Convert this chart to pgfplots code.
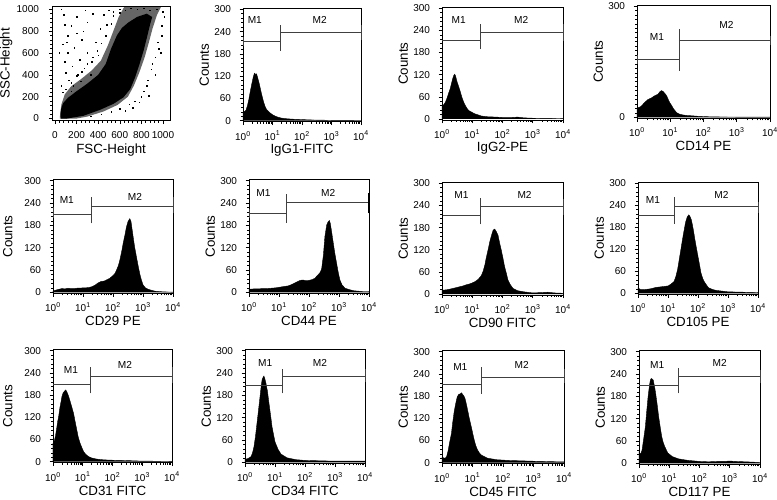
\documentclass[border=0pt]{standalone}
\usepackage{fontspec}
\setmainfont{Liberation Sans}
\usepackage{pgfplots}
\pgfplotsset{compat=1.18}
\pgfplotsset{
  panel/.style={
    scale only axis, anchor=south west,
    axis line style={line width=0.5pt, black},
    tick align=outside, tick pos=left,
    major tick length=2.5pt, minor tick length=1.4pt,
    tick style={black, line width=0.4pt},
    tick label style={font=\fontsize{7.5}{8.5}\selectfont},
    label style={font=\fontsize{7.6}{9}\selectfont},
    /pgf/number format/assume math mode=true,
    /pgf/number format/1000 sep={},
    xticklabel style={yshift=-1pt},
    yticklabel style={xshift=-3pt},
    every axis x label/.style={at={([yshift=-21pt]axis description cs:0.5,0)}, anchor=center},
    every axis y label/.style={at={([xshift=-29pt]axis description cs:0,0.5)}, anchor=center, rotate=90},
    clip=false,
  },
  hist/.style={panel, xmin=0, xmax=4, ymin=-3, ymax=303,
    xtick={0,1,2,3,4},
    xticklabels={10\textsuperscript{0},10\textsuperscript{1},10\textsuperscript{2},10\textsuperscript{3},10\textsuperscript{4}},
    minor xtick={0.301,0.477,0.602,0.699,0.778,0.845,0.903,0.954,1.301,1.477,1.602,1.699,1.778,1.845,1.903,1.954,2.301,2.477,2.602,2.699,2.778,2.845,2.903,2.954,3.301,3.477,3.602,3.699,3.778,3.845,3.903,3.954},
    ytick={0,60,120,180,240,300}, minor y tick num=4, ylabel={Counts}},
  firstcol/.style={every axis y label/.style={at={([xshift=-34pt]axis description cs:0,0.5)}, anchor=center, rotate=90}},
  hfill/.style={fill=black, draw=black, line width=0.3pt},
  mk/.style={black!75, line width=0.5pt},
  spk/.style={black, line width=0.6pt},
}
\newcommand{\ml}[1]{\fontsize{7.6}{9}\selectfont #1}
\begin{document}
\begin{tikzpicture}
\useasboundingbox (0,0) rectangle (582.75pt,374.25pt);

% ---------- Panel 1: scatter ----------
\begin{axis}[panel, at={(39.2pt,283.7pt)}, width=88.3pt, height=86pt,
  xmin=-25, xmax=1065, ymin=-20, ymax=1030,
  xtick={0,200,400,600,800,1000}, ytick={0,200,400,600,800,1000}, minor tick num=4,
  xticklabel style={yshift=-1pt, inner xsep=0pt},
  yticklabel style={xshift=-1pt},
  xlabel={FSC-Height}, ylabel={SSC-Height},
  every axis y label/.style={at={([xshift=-34.5pt]axis description cs:0,0.5)}, anchor=center, rotate=90},
  every axis x label/.style={at={([yshift=-22pt]axis description cs:0.5,0)}, anchor=center}]
\addplot[fill=black!60, draw=none] coordinates {(45,0) (200,0) (300,18) (450,65) (580,125) (675,200) (730,300) (780,420) (830,560) (870,700) (905,830) (945,950) (980,1020) (640,1020) (590,930) (540,800) (490,670) (425,530) (340,440) (240,360) (150,295) (90,220) (60,130) (48,50)};
\addplot[fill=black, draw=none] coordinates {(55,0) (110,0) (263,25) (418,80) (542,135) (635,195) (697,270) (743,380) (783,500) (820,620) (851,740) (880,860) (900,930) (850,960) (760,930) (680,880) (620,830) (573,760) (520,640) (470,500) (400,400) (300,320) (200,250) (120,190) (75,140) (58,90) (52,30)};
\addplot[only marks, mark=square*, mark size=0.2pt, black] coordinates {(80,950) (150,850) (200,780) (250,720) (180,650) (120,600) (300,880) (350,960) (420,820) (230,540) (160,480) (100,420) (300,600) (380,700) (270,460) (210,400) (130,350) (60,300) (90,520) (340,520) (450,950) (500,990) (280,990) (200,930) (120,760) (70,680) (400,580) (480,860) (150,250) (330,330) (260,800) (90,860) (540,980) (600,1000) (950,700) (980,600) (900,500) (860,350) (820,250) (780,150) (720,100) (650,70) (870,210) (930,400) (990,850) (1000,980) (60,1000) (40,600) (110,700) (330,400) (240,340) (170,300)
 (520,870) (470,760) (430,690) (390,620) (350,560) (300,500) (250,430) (200,390) (150,330) (100,270) (70,240) (540,940) (600,970) (650,990) (700,1010) (760,1000) (820,1010) (880,990) (940,1000) (1010,930) (990,760) (960,640) (930,560) (890,450) (850,300) (800,200) (740,160) (690,130) (600,90) (520,60) (430,40) (330,20)};
\end{axis}

% ---------- Panel 2: IgG1-FITC ----------
\begin{axis}[hist, at={(182.25pt,282.9pt)}, width=88.5pt, height=85.2pt, xlabel={IgG1-FITC}]
\addplot[hfill] coordinates {(0,0)(0,22)(0.05,25)(0.1,28)(0.15,40)(0.2,58)(0.25,80)(0.3,100)(0.35,118)(0.38,126)(0.4,128)(0.43,123)(0.46,126)(0.5,115)(0.55,100)(0.6,82)(0.65,65)(0.7,50)(0.75,38)(0.8,30)(0.9,22)(1.0,16)(1.1,12)(1.2,9)(1.3,7)(1.5,5)(1.7,4)(2.0,3)(2.3,2)(2.6,1.5)(3.0,1)(4,0.5)(4,0)};
\addplot[spk] coordinates {(0.01,0)(0.01,190)};
\addplot[mk] coordinates {(0,213)(1.27,213)};
\addplot[mk] coordinates {(1.27,189)(1.27,258)};
\addplot[mk] coordinates {(1.27,237)(4,237)};
\addplot[mk] coordinates {(4,217)(4,258)};
\addplot[mk] coordinates {(0,200)(0,226)};
\node at (axis cs:0.4,271) {\ml{M1}};
\node at (axis cs:2.6,271) {\ml{M2}};
\end{axis}

% ---------- Panel 3: IgG2-PE ----------
\begin{axis}[hist, at={(331.5pt,284.2pt)}, width=90.75pt, height=84.7pt, xlabel={IgG2-PE}]
\addplot[hfill] coordinates {(0,0)(0,35)(0.05,38)(0.11,45)(0.16,55)(0.22,70)(0.27,82)(0.31,95)(0.35,108)(0.39,118)(0.42,121)(0.45,116)(0.5,100)(0.55,88)(0.6,75)(0.66,58)(0.72,45)(0.78,35)(0.83,28)(0.9,22)(0.99,18)(1.08,14)(1.16,12)(1.3,8)(1.5,6)(1.8,5)(2.0,4)(2.3,4)(2.5,5)(2.7,3)(3.0,2)(3.5,1.5)(4,1)(4,0)};
\addplot[spk] coordinates {(0.01,0)(0.01,230)};
\addplot[mk] coordinates {(0,212)(1.27,212)};
\addplot[mk] coordinates {(1.27,189)(1.27,257)};
\addplot[mk] coordinates {(1.27,235)(4,235)};
\addplot[mk] coordinates {(4,212)(4,258)};
\node at (axis cs:0.55,268) {\ml{M1}};
\node at (axis cs:2.62,268) {\ml{M2}};
\end{axis}

% ---------- Panel 4: CD14 PE ----------
\begin{axis}[hist, at={(477.75pt,285.45pt)}, width=99.75pt, height=85.1pt, xlabel={CD14 PE},
  ytick={0,300}, minor y tick num=24]
\addplot[hfill] coordinates {(0,0)(0,25)(0.07,27)(0.13,30)(0.18,35)(0.23,40)(0.28,44)(0.33,48)(0.38,50)(0.43,52)(0.48,55)(0.53,58)(0.58,60)(0.63,62)(0.68,68)(0.73,72)(0.78,70)(0.82,66)(0.86,62)(0.9,56)(0.93,50)(0.98,40)(1.04,32)(1.09,24)(1.14,18)(1.2,12)(1.29,8)(1.4,6)(1.49,5)(1.65,4)(1.79,3)(2.0,2)(2.29,1)(3,0.6)(4,0.5)(4,0)};
\addplot[mk] coordinates {(0,156)(1.26,156)};
\addplot[mk] coordinates {(1.26,126)(1.26,237)};
\addplot[mk] coordinates {(1.26,208)(4,208)};
\addplot[mk] coordinates {(4,195)(4,220)};
\addplot[mk] coordinates {(0,145)(0,168)};
\node at (axis cs:0.6,217) {\ml{M1}};
\node at (axis cs:2.69,249) {\ml{M2}};
\end{axis}

% ---------- Panel 5: CD29 PE ----------
\begin{axis}[hist, firstcol, at={(39.75pt,154.2pt)}, width=90pt, height=85.35pt, xlabel={CD29 PE}]
\addplot[hfill] coordinates {(0,0)(0,3)(0.1,6)(0.2,8)(0.3,10)(0.4,9)(0.5,11)(0.6,10)(0.7,10)(0.8,11)(0.9,11)(1.0,12)(1.1,12)(1.2,13)(1.3,15)(1.4,19)(1.5,25)(1.6,29)(1.7,30)(1.8,34)(1.9,38)(2.0,45)(2.06,50)(2.12,60)(2.18,72)(2.23,87)(2.29,110)(2.34,132)(2.4,155)(2.45,176)(2.5,190)(2.56,198)(2.6,190)(2.67,150)(2.72,122)(2.78,96)(2.84,70)(2.9,47)(2.95,32)(3.0,20)(3.08,12)(3.17,8)(3.3,5)(3.4,3)(3.7,1)(4,0.5)(4,0)};
\addplot[mk] coordinates {(0,210)(1.29,210)};
\addplot[mk] coordinates {(1.29,185)(1.29,255)};
\addplot[mk] coordinates {(1.29,232)(4,232)};
\addplot[mk] coordinates {(4,212)(4,255)};
\addplot[mk] coordinates {(0,200)(0,230)};
\node at (axis cs:0.46,248) {\ml{M1}};
\node at (axis cs:2.73,255) {\ml{M2}};
\end{axis}

% ---------- Panel 6: CD44 PE ----------
\begin{axis}[hist, at={(186.75pt,154.2pt)}, width=90pt, height=85.35pt, xlabel={CD44 PE}]
\addplot[hfill] coordinates {(0,0)(0,8)(0.15,9)(0.3,9)(0.45,10)(0.6,10)(0.75,11)(0.9,12)(1.05,14)(1.2,16)(1.3,17)(1.4,20)(1.5,24)(1.6,28)(1.7,32)(1.8,33)(1.9,31)(2.0,32)(2.1,34)(2.2,38)(2.3,47)(2.36,52)(2.42,62)(2.48,100)(2.53,150)(2.59,181)(2.64,190)(2.68,193)(2.71,185)(2.74,170)(2.81,132)(2.86,105)(2.92,78)(2.97,55)(3.03,33)(3.1,20)(3.2,11)(3.35,7)(3.5,4)(3.8,2)(4,2)(4,0)};
\addplot[mk] coordinates {(0,212)(1.26,212)};
\addplot[mk] coordinates {(1.26,187)(1.26,264)};
\addplot[mk] coordinates {(1.26,241)(4,241)};
\addplot[black, line width=0.9pt] coordinates {(4,212)(4,266)};
\addplot[mk] coordinates {(0,200)(0,225)};
\node at (axis cs:0.48,266) {\ml{M1}};
\node at (axis cs:2.64,266) {\ml{M2}};
\end{axis}

% ---------- Panel 7: CD90 FITC ----------
\begin{axis}[hist, at={(331.5pt,152.9pt)}, width=90.75pt, height=84.7pt, xlabel={CD90 FITC}]
\addplot[hfill] coordinates {(0,0)(0,10)(0.1,11)(0.2,12)(0.3,14)(0.4,16)(0.5,18)(0.6,20)(0.7,22)(0.8,25)(0.9,27)(1.0,30)(1.1,34)(1.2,40)(1.3,50)(1.36,62)(1.42,80)(1.47,101)(1.53,122)(1.58,142)(1.64,160)(1.69,173)(1.74,176)(1.79,170)(1.85,160)(1.9,140)(1.96,119)(2.02,95)(2.07,74)(2.13,55)(2.18,38)(2.26,25)(2.35,15)(2.5,9)(2.7,6)(3.0,3)(3.3,4)(3.5,5)(3.7,3)(4,2)(4,0)};
\addplot[mk] coordinates {(0,212)(1.28,212)};
\addplot[mk] coordinates {(1.28,189)(1.28,259)};
\addplot[mk] coordinates {(1.28,237)(4,237)};
\addplot[mk] coordinates {(4,215)(4,258)};
\addplot[spk] coordinates {(0,205)(0,245)};
\node at (axis cs:0.64,268) {\ml{M1}};
\node at (axis cs:2.73,268) {\ml{M2}};
\end{axis}

% ---------- Panel 8: CD105 PE ----------
\begin{axis}[hist, at={(478.5pt,153.45pt)}, width=90pt, height=84.15pt, xlabel={CD105 PE}]
\addplot[hfill] coordinates {(0,0)(0,15)(0.05,12)(0.1,10)(0.2,10)(0.3,11)(0.4,12)(0.5,14)(0.6,16)(0.7,17)(0.8,18)(0.9,19)(1.0,20)(1.1,25)(1.2,32)(1.26,45)(1.32,65)(1.4,105)(1.45,130)(1.5,155)(1.55,178)(1.59,195)(1.64,208)(1.69,214)(1.73,210)(1.78,200)(1.84,175)(1.9,145)(1.95,122)(2.0,100)(2.05,78)(2.1,55)(2.16,40)(2.22,30)(2.35,15)(2.5,10)(2.6,8)(3.0,4)(3.5,3)(4,2)(4,0)};
\addplot[spk] coordinates {(0.01,0)(0.01,30)};
\addplot[mk] coordinates {(0,212)(1.22,212)};
\addplot[mk] coordinates {(1.22,189)(1.22,262)};
\addplot[mk] coordinates {(1.22,236)(4,236)};
\addplot[mk] coordinates {(4,220)(4,250)};
\node at (axis cs:0.5,255) {\ml{M1}};
\node at (axis cs:2.78,268) {\ml{M2}};
\end{axis}

% ---------- Panel 9: CD31 FITC ----------
\begin{axis}[hist, firstcol, at={(39.75pt,27.15pt)}, width=89.25pt, height=84.9pt, xlabel={CD31 FITC}]
\addplot[hfill] coordinates {(0,0)(0,50)(0.04,55)(0.08,68)(0.12,88)(0.16,110)(0.19,122)(0.23,145)(0.27,162)(0.3,176)(0.34,186)(0.38,190)(0.43,194)(0.47,188)(0.52,178)(0.58,162)(0.63,148)(0.69,131)(0.74,110)(0.8,86)(0.85,66)(0.91,50)(0.97,38)(1.03,27)(1.1,20)(1.19,14)(1.3,10)(1.47,7)(1.7,5)(2.0,4)(2.5,3)(3.0,1.5)(4,1)(4,0)};
\addplot[spk] coordinates {(0.01,0)(0.01,230)};
\addplot[mk] coordinates {(0,210)(1.27,210)};
\addplot[mk] coordinates {(1.27,185)(1.27,257)};
\addplot[mk] coordinates {(1.27,232)(4,232)};
\addplot[mk] coordinates {(4,212)(4,255)};
\node at (axis cs:0.6,248) {\ml{M1}};
\node at (axis cs:2.42,261) {\ml{M2}};
\end{axis}

% ---------- Panel 10: CD34 FITC ----------
\begin{axis}[hist, at={(183.75pt,26.7pt)}, width=90pt, height=85.35pt, xlabel={CD34 FITC}]
\addplot[hfill] coordinates {(0,0)(0,8)(0.1,10)(0.2,15)(0.25,25)(0.3,42)(0.35,70)(0.4,105)(0.45,140)(0.5,176)(0.54,205)(0.57,222)(0.6,228)(0.63,232)(0.66,225)(0.7,212)(0.75,190)(0.8,158)(0.85,128)(0.9,96)(0.95,75)(1.0,55)(1.1,35)(1.2,22)(1.4,12)(1.7,7)(2.0,5)(2.5,4)(3.0,3)(3.5,3)(4,3)(4,0)};
\addplot[spk] coordinates {(0.01,0)(0.01,225)};
\addplot[mk] coordinates {(0,206)(1.26,206)};
\addplot[mk] coordinates {(1.26,185)(1.26,252)};
\addplot[mk] coordinates {(1.26,232)(4,232)};
\addplot[mk] coordinates {(4,215)(4,250)};
\node at (axis cs:0.67,268) {\ml{M1}};
\node at (axis cs:2.5,268) {\ml{M2}};
\end{axis}

% ---------- Panel 11: CD45 FITC ----------
\begin{axis}[hist, at={(331.5pt,26.4pt)}, width=91.5pt, height=84.9pt, xlabel={CD45 FITC}]
\addplot[hfill] coordinates {(0,0)(0,15)(0.05,13)(0.1,12)(0.15,16)(0.2,32)(0.25,55)(0.31,79)(0.35,108)(0.4,138)(0.45,160)(0.5,178)(0.55,185)(0.6,186)(0.64,189)(0.68,184)(0.72,180)(0.76,172)(0.8,158)(0.85,138)(0.9,118)(0.96,97)(1.01,78)(1.06,60)(1.1,48)(1.16,35)(1.23,26)(1.3,20)(1.5,12)(1.8,8)(2.2,6)(2.6,5)(3.0,4)(3.5,3)(4,2)(4,0)};
\addplot[spk] coordinates {(0.01,0)(0.01,175)};
\addplot[mk] coordinates {(0,213)(1.29,213)};
\addplot[mk] coordinates {(1.29,187)(1.29,259)};
\addplot[mk] coordinates {(1.29,232)(4,232)};
\addplot[mk] coordinates {(4,215)(4,252)};
\node at (axis cs:0.6,258) {\ml{M1}};
\node at (axis cs:2.61,264) {\ml{M2}};
\end{axis}

% ---------- Panel 12: CD117 PE ----------
\begin{axis}[hist, at={(479.25pt,25.95pt)}, width=90.75pt, height=85.35pt, xlabel={CD117 PE}]
\addplot[hfill] coordinates {(0,0)(0,30)(0.05,24)(0.1,35)(0.15,63)(0.21,98)(0.25,135)(0.3,179)(0.35,212)(0.38,225)(0.41,228)(0.44,226)(0.47,224)(0.51,208)(0.55,188)(0.6,158)(0.65,125)(0.7,98)(0.75,72)(0.8,56)(0.85,45)(0.95,28)(1.1,18)(1.3,12)(1.6,8)(2.0,5)(2.3,4)(2.6,5)(2.8,5)(3.0,6)(3.2,5)(3.5,4)(3.8,3)(4,2)(4,0)};
\addplot[spk] coordinates {(0.01,0)(0.01,230)};
\addplot[mk] coordinates {(0,209)(1.29,209)};
\addplot[mk] coordinates {(1.29,188)(1.29,255)};
\addplot[mk] coordinates {(1.29,233)(4,233)};
\addplot[mk] coordinates {(4,215)(4,250)};
\node at (axis cs:0.6,264) {\ml{M1}};
\node at (axis cs:2.67,270) {\ml{M2}};
\end{axis}
\end{tikzpicture}
\end{document}
